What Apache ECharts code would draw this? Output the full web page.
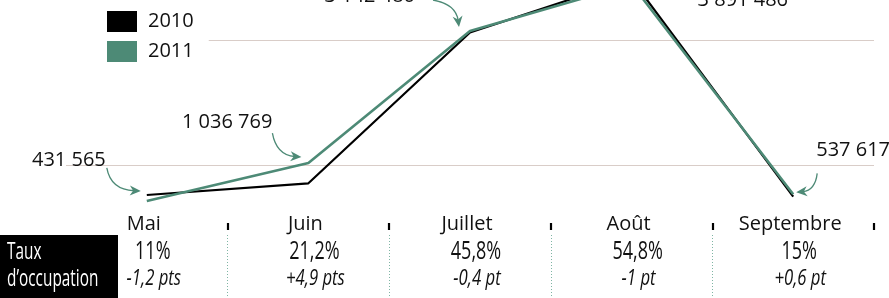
<!DOCTYPE html>
<html><head><meta charset="utf-8">
<script src="https://cdn.jsdelivr.net/npm/echarts@6/dist/echarts.min.js"></script>
<style>html,body{margin:0;padding:0;background:#fff}#c{width:889px;height:298px}</style>
</head><body><div id="c"></div>
<script>
const categories = ['Mai', 'Juin', 'Juillet', 'Août', 'Septembre'];
const visitors2010 = [527000, 713000, 3120000, 3970000, 500000];
const visitors2011 = [431565, 1036769, 3142480, 3891486, 537617];
const occupancy = ['11%', '21,2%', '45,8%', '54,8%', '15%'];
const occupancyDelta = ['-1,2 pts', '+4,9 pts', '-0,4 pt', '-1 pt', '+0,6 pt'];
const seriesNames = ['2010', '2011'];
const yTicks = [0, 1000000, 2000000, 3000000];
const rowTitle = ['Taux', 'd\u2019occupation'];

const GREEN = '#4d8a76';
const FONT = "'Open Sans', 'Noto Sans', sans-serif";

function fmt(n) { return String(n).replace(/\B(?=(\d{3})+(?!\d))/g, ' '); }

const chart = echarts.init(document.getElementById('c'), null, { renderer: 'canvas' });

const option = {
  animation: false,
  backgroundColor: '#fff',
  grid: [
    { left: 66, right: 15, top: 40, bottom: 70 },
    { left: 66, right: 15, top: 235, bottom: 0 },
    { left: 66, right: 15, top: 223, height: 7 }
  ],
  legend: {
    data: seriesNames,
    orient: 'vertical',
    left: 65, top: 6,
    padding: [5, 15, 5, 42],
    backgroundColor: '#fff',
    icon: 'rect',
    itemWidth: 30, itemHeight: 21, itemGap: 9,
    itemStyle: { borderWidth: 0 },
    textStyle: { fontFamily: FONT, fontSize: 20, color: '#111', padding: [0, 0, 0, 6] }
  },
  xAxis: [
    { type: 'category', gridIndex: 0, data: categories, boundaryGap: true,
      axisLine: { show: false }, axisTick: { show: false }, axisLabel: { show: false }, splitLine: { show: false } },
    { type: 'category', gridIndex: 1, data: categories, boundaryGap: true, position: 'bottom',
      axisLine: { show: false }, axisTick: { show: false },
      splitLine: { show: true, interval: 0, showMinLine: false, showMaxLine: false,
        lineStyle: { type: [1, 2], color: '#7fb5a4', width: 1 } },
      axisLabel: {
        show: true, inside: true, margin: 60, interval: 0,
        formatter: function (v) { return '{a|' + v + '}'; },
        rich: { a: { fontFamily: FONT, fontSize: 20, lineHeight: 27, color: '#111', padding: [0, 6, 0, 0] } }
      } },
    { type: 'category', gridIndex: 2, data: categories, boundaryGap: true, position: 'bottom',
      axisLine: { show: false }, axisLabel: { show: false }, splitLine: { show: false },
      axisTick: { show: true, inside: true, length: 7, interval: function (i) { return i > 0; },
        lineStyle: { color: '#000', width: 2.2 } } }
  ],
  yAxis: [
    { type: 'value', gridIndex: 0, min: yTicks[0], max: yTicks[yTicks.length - 1], interval: yTicks[1] - yTicks[0],
      axisLine: { show: false }, axisTick: { show: false }, axisLabel: { show: false },
      splitLine: { show: true, lineStyle: { color: ['rgba(0,0,0,0)', '#d9cdc8', 'rgba(0,0,0,0)', '#d9cdc8'], width: 1 } } },
    { type: 'value', gridIndex: 1, show: false, splitLine: { show: false } },
    { type: 'value', gridIndex: 2, show: false, splitLine: { show: false } }
  ],
  series: [
    { name: seriesNames[0], type: 'line', xAxisIndex: 0, yAxisIndex: 0, data: visitors2010,
      symbol: 'none', clip: false, color: '#000', lineStyle: { color: '#000', width: 2.2 }, z: 2 },
    { name: seriesNames[1], type: 'line', xAxisIndex: 0, yAxisIndex: 0, data: visitors2011,
      symbol: 'none', clip: false, color: GREEN, lineStyle: { color: GREEN, width: 2.6 }, z: 3 }
  ]
};
chart.setOption(option);

// annotation layout (relative to each 2011 point, in px)
const labelLayout = [
  { dx: -41, dy: -41, align: 'right' },
  { dx: -36, dy: -41, align: 'right' },
  { dx: -55, dy: -35, align: 'right' },
  { dx: 66, dy: 16, align: 'left' },
  { dx: 23, dy: -44, align: 'left' }
];
const arrowLayout = [
  { s: [-40, -33], c: [-36, -11], t: [-6, -10] },
  { s: [-36, -30], c: [-32, -8], t: [-7, -6] },
  { s: [-37, -31], c: [-14, -27], t: [-11, -4] },
  null,
  { s: [24, -21], c: [22, -4], t: [3, -2] }
];

function arrow(p, a) {
  const sx = p[0] + a.s[0], sy = p[1] + a.s[1];
  const cx = p[0] + a.c[0], cy = p[1] + a.c[1];
  const tx = p[0] + a.t[0], ty = p[1] + a.t[1];
  const ang = Math.atan2(ty - cy, tx - cx);
  const L = 11, W = 5;
  const ux = Math.cos(ang), uy = Math.sin(ang);
  const bx = tx - L * ux, by = ty - L * uy;
  const nx = -uy, ny = ux;
  return [
    { type: 'bezierCurve', silent: true, z: 10,
      shape: { x1: sx, y1: sy, x2: tx - 0.6 * L * ux, y2: ty - 0.6 * L * uy, cpx1: cx, cpy1: cy },
      style: { stroke: GREEN, fill: null, lineWidth: 1.3 } },
    { type: 'polygon', silent: true, z: 10,
      shape: { points: [[tx, ty], [bx + nx * W, by + ny * W], [tx - 0.7 * L * ux, ty - 0.7 * L * uy], [bx - nx * W, by - ny * W]] },
      style: { fill: GREEN } }
  ];
}

const graphics = [
  { type: 'rect', left: 0, top: 235, z: 5, shape: { width: 118, height: 63 }, style: { fill: '#000' } },
  { type: 'text', x: 7, y: 252, scaleX: 0.64, z: 6, silent: true,
    style: { text: rowTitle[0], fill: '#fff', font: '24px ' + FONT, align: 'left', verticalAlign: 'middle' } },
  { type: 'text', x: 7, y: 279, scaleX: 0.64, z: 6, silent: true,
    style: { text: rowTitle[1], fill: '#fff', font: '24px ' + FONT, align: 'left', verticalAlign: 'middle' } }
];
categories.forEach(function (c, i) {
  const x = chart.convertToPixel({ xAxisIndex: 1 }, i);
  graphics.push({ type: 'text', x: x + 6, y: 252, scaleX: 0.72, z: 6, silent: true,
    style: { text: occupancy[i], fill: '#111', font: '25px ' + FONT, align: 'center', verticalAlign: 'middle' } });
  graphics.push({ type: 'text', x: x + 7, y: 279, scaleX: 0.76, z: 6, silent: true,
    style: { text: occupancyDelta[i], fill: '#111', font: 'italic 22px ' + FONT, align: 'center', verticalAlign: 'middle' } });
});
visitors2011.forEach(function (v, i) {
  const p = chart.convertToPixel({ seriesIndex: 1 }, [i, v]);
  const L = labelLayout[i];
  graphics.push({ type: 'text', x: p[0] + L.dx, y: p[1] + L.dy, z: 10, silent: true,
    style: { text: fmt(v), fill: '#111', font: '20px ' + FONT, align: L.align, verticalAlign: 'middle' } });
  if (arrowLayout[i]) arrow(p, arrowLayout[i]).forEach(function (g) { graphics.push(g); });
});
chart.setOption({ graphic: graphics });
</script>
</body></html>
